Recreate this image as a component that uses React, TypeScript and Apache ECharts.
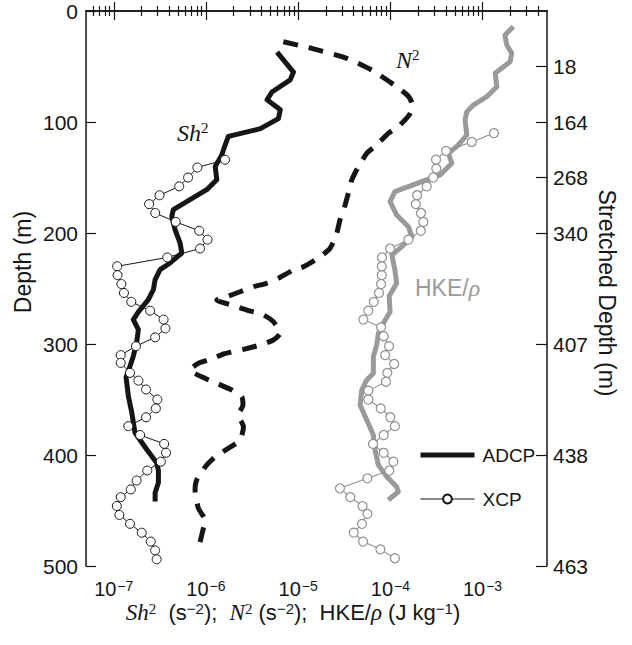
import React, { useEffect, useRef } from "react";
import * as echarts from "echarts";

const SANS = "Liberation Sans";
const SERIF = "Liberation Serif";
const INK = "#151515";
const GRAY = "#9a9a9a";

// ---- Sh^2 (ADCP, thick black) ----
const shAdcpValue = [5.9e-6, 8.9e-6, 8.2e-6, 5.2e-6, 4.6e-6, 6.4e-6, 6.1e-6, 3.9e-6, 1.75e-6, 1.61e-6, 1.48e-6, 1.26e-6, 1.31e-6, 1.02e-6, 4.43e-7, 4.26e-7, 4.62e-7, 5.24e-7, 5.47e-7, 4.08e-7, 3.18e-7, 2.81e-7, 2.69e-7, 2.37e-7, 1.85e-7, 1.63e-7, 1.85e-7, 1.77e-7, 1.63e-7, 1.5e-7, 1.36e-7, 1.44e-7, 1.57e-7, 1.7e-7, 2.28e-7, 2.92e-7, 3.05e-7, 3.05e-7, 2.81e-7, 2.81e-7];
const shAdcpDepth = [37, 55, 62, 73, 80, 89, 97, 106, 113, 121, 130, 140, 152, 161, 179, 185, 197, 209, 218, 227, 233, 242, 251, 260, 271, 278, 287, 299, 311, 320, 330, 347, 362, 380, 395, 407, 414, 425, 434, 442];

// ---- Sh^2 (XCP, open black circles) ----
const shXcpValue = [1.61e-6, 8.07e-7, 6.4e-7, 5.13e-7, 3.14e-7, 2.42e-7, 2.82e-7, 4.7e-7, 8.45e-7, 1.04e-6, 8.63e-7, 3.81e-7, 1.09e-7, 1.1e-7, 1.21e-7, 1.29e-7, 1.55e-7, 2.48e-7, 3.47e-7, 3.63e-7, 2.81e-7, 1.74e-7, 1.19e-7, 1.19e-7, 1.5e-7, 1.85e-7, 2.24e-7, 2.97e-7, 2.86e-7, 2.24e-7, 1.44e-7, 1.93e-7, 3.52e-7, 3.69e-7, 3.24e-7, 2.31e-7, 1.77e-7, 1.53e-7, 1.19e-7, 1.08e-7, 1.15e-7, 1.5e-7, 2.01e-7, 2.52e-7, 2.81e-7, 2.92e-7];
const shXcpDepth = [134, 141, 150, 158, 166, 174, 182, 190, 198, 206, 214, 222, 230, 238, 246, 254, 262, 270, 278, 286, 294, 302, 310, 317, 326, 333, 341, 350, 358, 366, 374, 382, 390, 398, 406, 414, 423, 431, 438, 446, 454, 462, 470, 478, 486, 494];

// ---- N^2 (dashed black) ----
const n2Value = [6.9e-6, 1.4e-5, 3.37e-5, 6.28e-5, 1.17e-4, 1.56e-4, 1.71e-4, 1.64e-4, 1.27e-4, 9.5e-5, 7.11e-5, 5.55e-5, 4.5e-5, 3.81e-5, 3.5e-5, 3.23e-5, 2.84e-5, 2.62e-5, 2.22e-5, 1.73e-5, 1.14e-5, 8.87e-6, 6.1e-6, 4.56e-6, 3.27e-6, 2.34e-6, 1.68e-6, 1.31e-6, 2.16e-6, 2.77e-6, 4.2e-6, 5.38e-6, 6.37e-6, 5.38e-6, 3.86e-6, 2.55e-6, 1.55e-6, 1.2e-6, 8.28e-7, 6.73e-7, 9.77e-7, 1.31e-6, 1.91e-6, 2.44e-6, 2.52e-6, 2.24e-6, 2.55e-6, 2.34e-6, 1.75e-6, 1.26e-6, 1.02e-6, 7.94e-7, 7.62e-7, 8.28e-7, 9.77e-7, 9.0e-7, 8.48e-7];
const n2Depth = [27.7, 33.6, 42.6, 53.2, 68.2, 76.6, 83.2, 92.2, 102.7, 110.2, 120.7, 128.2, 140.3, 152.3, 164.2, 174.8, 188.3, 200.3, 213.8, 221.4, 230.4, 233.3, 240.8, 245.3, 248.4, 252.9, 257.4, 260.4, 266.4, 269.4, 273.9, 279.9, 290.4, 296.4, 300.9, 304.8, 309, 312.9, 317.4, 323.4, 330.9, 335.4, 341.4, 347.5, 355, 364, 374.5, 386.5, 394, 401.5, 409, 422.5, 431.5, 448, 458.6, 472.1, 481.1];

// ---- HKE/rho (ADCP, thick gray) ----
const hkeAdcpValue = [2.16e-3, 1.75e-3, 1.83e-3, 2.07e-3, 1.99e-3, 1.37e-3, 1.43e-3, 1.11e-3, 7.94e-4, 6.75e-4, 6.46e-4, 6.75e-4, 5.47e-4, 4.26e-4, 4.64e-4, 3.92e-4, 3.46e-4, 2.19e-4, 1.12e-4, 9.93e-5, 1.17e-4, 1.57e-4, 1.71e-4, 1.33e-4, 1.04e-4, 1.12e-4, 1.17e-4, 9.7e-5, 9.93e-5, 8.39e-5, 7.41e-5, 7.11e-5, 6.54e-5, 6.54e-5, 5.55e-5, 4.9e-5, 4.69e-5, 5.55e-5, 6.54e-5, 6.82e-5, 7.41e-5, 9.14e-5, 1.17e-4, 1.22e-4, 9.51e-5];
const hkeAdcpDepth = [14.1, 21.6, 30.6, 38.1, 45.7, 56.1, 68.2, 77.2, 84.7, 90.7, 98.2, 111.7, 120.7, 128.2, 137.2, 143.2, 147.7, 153.8, 162.8, 171.8, 183.8, 194.3, 203.3, 212.3, 219.8, 233.3, 245.3, 257, 270.9, 281.4, 290.4, 300.9, 311.4, 326.4, 332.4, 341.4, 355, 368.5, 382, 395.5, 409, 419.5, 428.6, 433.1, 440.5];

// ---- HKE/rho (XCP, open gray circles) ----
const hkeXcpValue = [1.33e-3, 7.64e-4, 4.02e-4, 3.13e-4, 3.15e-4, 2.92e-4, 2.48e-4, 1.95e-4, 1.89e-4, 2.15e-4, 2.28e-4, 2.14e-4, 1.57e-4, 9.93e-5, 8.13e-5, 8.07e-5, 8.07e-5, 7.93e-5, 7.53e-5, 6.61e-5, 5.77e-5, 5.09e-5, 7.93e-5, 8.47e-5, 9.68e-5, 8.77e-5, 1.1e-4, 9.27e-5, 8.97e-5, 5.77e-5, 5.77e-5, 7.87e-5, 1.0e-4, 1.12e-4, 8.47e-5, 6.49e-5, 8.47e-5, 1.08e-4, 9.75e-5, 5.64e-5, 2.84e-5, 3.68e-5, 4.99e-5, 5.64e-5, 4.93e-5, 4.01e-5, 5.06e-5, 7.8e-5, 1.12e-4];
const hkeXcpDepth = [110, 118, 126, 134, 142, 150, 158, 166, 174, 182, 190, 198, 206, 214, 222, 230, 238, 246, 254, 262, 270, 278, 285, 293, 302, 310, 318, 326, 334, 342, 350, 358, 366, 374, 382, 390, 398, 406, 414, 421, 430, 438, 446, 453, 462, 470, 478, 485, 493];

// ---- axes ----
const xMin = 5e-8;
const xMax = 5e-3;
const xMajorTicks = [1e-7, 1e-6, 1e-5, 1e-4, 1e-3];
const xMinorMultipliers = [2, 3, 4, 5, 6, 7, 8, 9];
const depthTicks = [0, 100, 200, 300, 400, 500];
const stretchedTickDepth = [50, 100, 150, 200, 300, 400, 500];
const stretchedTickLabel = ["18", "164", "268", "340", "407", "438", "463"];

const xMinorTicks: number[] = [];
[1e-8, 1e-7, 1e-6, 1e-5, 1e-4, 1e-3].forEach((d) =>
  xMinorMultipliers.forEach((m) => {
    const v = m * d;
    if (v > xMin * 1.0001 && v < xMax * 0.9999) xMinorTicks.push(v);
  })
);

const zip = (v: number[], d: number[]) => v.map((x, i) => [x, d[i]]);

const axisLineStyle = { color: INK, width: 1.5 };

function logAxis(position: "top" | "bottom", major: boolean, labels: boolean) {
  return {
    type: "log",
    position,
    min: xMin,
    max: xMax,
    logBase: 10,
    axisLine: { show: major, lineStyle: axisLineStyle },
    axisTick: {
      show: true,
      inside: true,
      length: major ? 9 : 5,
      lineStyle: { color: INK, width: 1.2 },
      customValues: major ? xMajorTicks : xMinorTicks,
    },
    axisLabel: labels
      ? {
          show: true,
          customValues: xMajorTicks,
          margin: 13,
          formatter: (v: number) => {
            const e = Math.round(Math.log10(v));
            return `{b|10}{s|${e < 0 ? "\u2212" : ""}${Math.abs(e)}}`;
          },
          rich: {
            b: { fontSize: 20, fontFamily: SANS, color: INK, lineHeight: 20 },
            s: { fontSize: 14, fontFamily: SANS, color: INK, lineHeight: 12, verticalAlign: "top", padding: [0, 0, 0, 1] },
          },
        }
      : { show: false },
    splitLine: { show: false },
    minorTick: { show: false },
    minorSplitLine: { show: false },
  };
}

const option: any = {
  animation: false,
  backgroundColor: "#ffffff",
  grid: { left: 86, right: 85, top: 11, bottom: 79, containLabel: false, outerBoundsMode: "none" },
  xAxis: [
    logAxis("bottom", true, true),
    logAxis("bottom", false, false),
    logAxis("top", true, false),
    logAxis("top", false, false),
  ],
  yAxis: [
    {
      type: "value",
      position: "left",
      inverse: true,
      min: 0,
      max: 500,
      interval: 100,
      axisLine: { show: true, lineStyle: axisLineStyle },
      axisTick: { show: true, inside: true, length: 10, lineStyle: { color: INK, width: 1.2 }, customValues: depthTicks },
      axisLabel: { show: true, margin: 8, fontSize: 21, fontFamily: SANS, color: INK, customValues: depthTicks },
      splitLine: { show: false },
    },
    {
      type: "value",
      position: "right",
      inverse: true,
      min: 0,
      max: 500,
      axisLine: { show: true, lineStyle: axisLineStyle },
      axisTick: { show: true, inside: true, length: 11, lineStyle: { color: INK, width: 1.2 }, customValues: stretchedTickDepth },
      axisLabel: {
        show: true,
        margin: 6,
        fontSize: 21,
        fontFamily: SANS,
        color: INK,
        customValues: stretchedTickDepth,
        formatter: (v: number) => {
          const i = stretchedTickDepth.indexOf(Math.round(v));
          return i >= 0 ? stretchedTickLabel[i] : "";
        },
      },
      splitLine: { show: false },
    },
  ],
  legend: {
    data: [
      { name: "ADCP", itemStyle: { opacity: 0 }, lineStyle: { width: 5, color: INK } },
      { name: "XCP", lineStyle: { width: 1, color: INK } },
    ],
    orient: "vertical",
    left: 418,
    top: 445,
    padding: 0,
    itemWidth: 54,
    itemHeight: 11,
    itemGap: 24,
    selectedMode: false,
    textStyle: { fontSize: 19, fontFamily: SANS, color: INK, lineHeight: 20, padding: [0, 0, 0, 3] },
  },
  series: [
    {
      name: "N2",
      type: "line",
      xAxisIndex: 0,
      yAxisIndex: 0,
      data: zip(n2Value, n2Depth),
      symbol: "none",
      smooth: 0.2,
      lineStyle: { color: INK, width: 5, type: [15, 11], cap: "butt" },
      z: 2,
    },
    {
      name: "ADCP",
      type: "line",
      xAxisIndex: 0,
      yAxisIndex: 0,
      data: zip(shAdcpValue, shAdcpDepth),
      symbol: "none",
      itemStyle: { color: INK },
      lineStyle: { color: INK, width: 5, join: "round" },
      z: 3,
    },
    {
      name: "HKE ADCP",
      type: "line",
      xAxisIndex: 0,
      yAxisIndex: 0,
      data: zip(hkeAdcpValue, hkeAdcpDepth),
      symbol: "none",
      itemStyle: { color: GRAY },
      lineStyle: { color: GRAY, width: 5, join: "round" },
      z: 3,
    },
    {
      name: "XCP",
      type: "line",
      xAxisIndex: 0,
      yAxisIndex: 0,
      data: zip(shXcpValue, shXcpDepth),
      symbol: "circle",
      symbolSize: 9,
      showSymbol: true,
      itemStyle: { color: "#ffffff", borderColor: INK, borderWidth: 1 },
      lineStyle: { color: INK, width: 1 },
      z: 4,
    },
    {
      name: "HKE XCP",
      type: "line",
      xAxisIndex: 0,
      yAxisIndex: 0,
      data: zip(hkeXcpValue, hkeXcpDepth),
      symbol: "circle",
      symbolSize: 9,
      showSymbol: true,
      itemStyle: { color: "#ffffff", borderColor: "#909090", borderWidth: 1.2 },
      lineStyle: { color: "#909090", width: 1.1 },
      z: 4,
    },
  ],
  graphic: [
    {
      type: "text",
      x: 23,
      y: 262,
      rotation: Math.PI / 2,
      style: { text: "Depth (m)", fontSize: 23, fontFamily: SANS, fill: INK, align: "center", verticalAlign: "middle" },
    },
    {
      type: "text",
      x: 607,
      y: 293,
      rotation: -Math.PI / 2,
      style: { text: "Stretched Depth (m)", fontSize: 23, fontFamily: SANS, fill: INK, align: "center", verticalAlign: "middle" },
    },
    {
      type: "text",
      x: 177,
      y: 133,
      style: {
        text: "{i|Sh}{s|2}",
        align: "left",
        verticalAlign: "middle",
        rich: {
          i: { fontSize: 24, fontFamily: SERIF, fontStyle: "italic", fill: INK, color: INK, lineHeight: 26 },
          s: { fontSize: 15, fontFamily: SERIF, fill: INK, color: INK, lineHeight: 15, verticalAlign: "top" },
        },
      },
    },
    {
      type: "text",
      x: 396,
      y: 60,
      style: {
        text: "{i|N}{s|2}",
        align: "left",
        verticalAlign: "middle",
        rich: {
          i: { fontSize: 24, fontFamily: SERIF, fontStyle: "italic", fill: INK, color: INK, lineHeight: 26 },
          s: { fontSize: 15, fontFamily: SERIF, fill: INK, color: INK, lineHeight: 15, verticalAlign: "top" },
        },
      },
    },
    {
      type: "text",
      x: 415,
      y: 288,
      style: {
        text: "{a|HKE/}{r|\u03C1}",
        align: "left",
        verticalAlign: "middle",
        rich: {
          a: { fontSize: 23, fontFamily: SANS, fill: GRAY, color: GRAY, lineHeight: 26 },
          r: { fontSize: 24, fontFamily: SERIF, fontStyle: "italic", fill: GRAY, color: GRAY, lineHeight: 26 },
        },
      },
    },
    {
      type: "text",
      x: 293,
      y: 612,
      style: {
        text:
          "{i|Sh}{is|2}{n|  (s}{s|\u22122}{n|);  }{i|N}{is|2}{n| (s}{s|\u22122}{n|);  HKE/}{i|\u03C1}{n| (J kg}{s|\u22121}{n|)}",
        align: "center",
        verticalAlign: "middle",
        rich: {
          n: { fontSize: 22, fontFamily: SANS, fill: INK, color: INK, lineHeight: 22 },
          s: { fontSize: 15, fontFamily: SANS, fill: INK, color: INK, lineHeight: 14, verticalAlign: "top" },
          i: { fontSize: 23, fontFamily: SERIF, fontStyle: "italic", fill: INK, color: INK, lineHeight: 22 },
          is: { fontSize: 15, fontFamily: SERIF, fill: INK, color: INK, lineHeight: 14, verticalAlign: "top" },
        },
      },
    },
  ],
};

export default function App() {
  const ref = useRef<HTMLDivElement>(null);
  useEffect(() => {
    document.body.style.margin = "0";
    const chart = echarts.init(ref.current as HTMLDivElement, null, { renderer: "svg" });
    chart.setOption(option);
    return () => chart.dispose();
  }, []);
  return <div ref={ref} style={{ width: 632, height: 645 }} />;
}
